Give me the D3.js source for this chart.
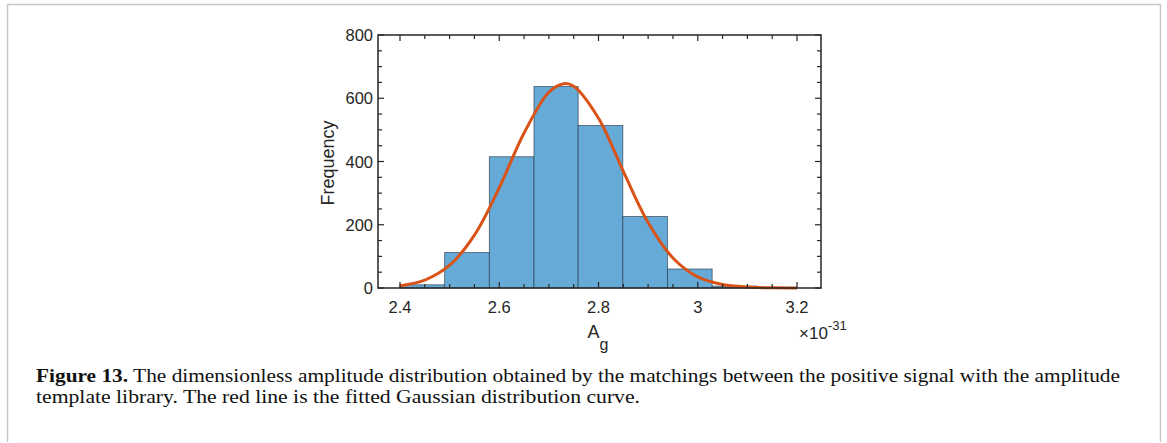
<!DOCTYPE html>
<html><head><meta charset="utf-8">
<script src="https://cdn.jsdelivr.net/npm/d3@7"></script>
<style>body{margin:0;background:#fff}svg{display:block}</style>
</head><body>
<svg id="c" width="1167" height="443"></svg>
<script>
// ---- data ----
const binEdges = [2.400, 2.490, 2.580, 2.670, 2.759, 2.849, 2.939, 3.029, 3.119];
const binCounts = [10, 112, 415, 637, 514, 226, 60, 6];
const fitX = [2.40, 2.45, 2.50, 2.55, 2.60, 2.65, 2.70, 2.73, 2.75, 2.80, 2.85, 2.90, 2.95, 3.00, 3.05, 3.10, 3.15, 3.20];
const fitY = [7, 25, 72, 167, 317, 490, 619, 646, 638, 537, 369, 207, 95, 35, 11, 3, 0.5, 0.1];
const xTicks = [2.4, 2.6, 2.8, 3.0, 3.2];
const xTickLabels = ["2.4", "2.6", "2.8", "3", "3.2"];
const yTicks = [0, 200, 400, 600, 800];
const captionBold = "Figure 13.";
const captionLine1 = " The dimensionless amplitude distribution obtained by the matchings between the positive signal with the amplitude";
const captionLine2 = "template library. The red line is the fitted Gaussian distribution curve.";

const svg = d3.select("#c");
// frame
svg.append("path").attr("d","M7.5,442 V4.5 H1160.5 V442").attr("fill","none").attr("stroke","#c8c8c8").attr("stroke-width",1.5);

const L=378, R=821, T=35, B=288;
const x = d3.scaleLinear().domain([2.4,3.2]).range([400,797]);
const y = d3.scaleLinear().domain([0,800]).range([B,T]);

const g = svg.append("g");
// bars
g.selectAll("rect.bar").data(binCounts).join("rect")
  .attr("x",(d,i)=>x(binEdges[i])).attr("width",(d,i)=>x(binEdges[i+1])-x(binEdges[i]))
  .attr("y",d=>y(d)).attr("height",d=>B-y(d))
  .attr("fill","#66aad7").attr("stroke","#2a3a4a").attr("stroke-width",0.8).attr("stroke-opacity",0.8);

// curve
const line = d3.line().x(d=>x(d[0])).y(d=>y(d[1])).curve(d3.curveCatmullRom.alpha(0.5));
g.append("path").datum(fitX.map((v,i)=>[v,fitY[i]])).attr("d",line)
  .attr("fill","none").attr("stroke","#d95319").attr("stroke-width",3).attr("stroke-linejoin","round");

// ticks
const ax = svg.append("g").attr("stroke","#262626").attr("stroke-width",1.2);
const xMinor = d3.range(2.4, 3.2001, 0.05);
xMinor.forEach(v=>{
  const isMaj = xTicks.some(t=>Math.abs(t-v)<1e-6);
  const len = isMaj?6:4;
  ax.append("line").attr("x1",x(v)).attr("x2",x(v)).attr("y1",B).attr("y2",B-len);
  ax.append("line").attr("x1",x(v)).attr("x2",x(v)).attr("y1",T).attr("y2",T+len);
});
d3.range(0,801,50).forEach(v=>{
  const isMaj = yTicks.includes(v);
  const len = isMaj?6:4;
  ax.append("line").attr("y1",y(v)).attr("y2",y(v)).attr("x1",L).attr("x2",L+len);
  ax.append("line").attr("y1",y(v)).attr("y2",y(v)).attr("x1",R).attr("x2",R-len);
});
svg.append("rect").attr("x",L).attr("y",T).attr("width",R-L).attr("height",B-T)
  .attr("fill","none").attr("stroke","#262626").attr("stroke-width",1.5);

// tick labels
const font = "'Liberation Sans', Arial, sans-serif";
svg.append("g").selectAll("text").data(xTicks).join("text")
  .attr("x",d=>x(d)).attr("y",313).attr("text-anchor","middle")
  .attr("font-family",font).attr("font-size",16.5).attr("fill","#262626")
  .text((d,i)=>xTickLabels[i]);
svg.append("g").selectAll("text").data(yTicks).join("text")
  .attr("x",373).attr("y",d=>y(d)+6).attr("text-anchor","end")
  .attr("font-family",font).attr("font-size",16.5).attr("fill","#262626")
  .text(d=>d);

// axis labels
svg.append("text").attr("transform","translate(334,163) rotate(-90)").attr("text-anchor","middle")
  .attr("font-family",font).attr("font-size",18).attr("fill","#262626").text("Frequency");
const xl = svg.append("text").attr("x",598).attr("y",338).attr("text-anchor","middle")
  .attr("font-family",font).attr("font-size",18).attr("fill","#262626");
xl.append("tspan").text("A");
xl.append("tspan").attr("dy",12).attr("font-size",16).text("g");

const ex = svg.append("text").attr("x",799).attr("y",339)
  .attr("font-family",font).attr("font-size",17).attr("fill","#262626");
ex.append("tspan").text("\u00d710");
ex.append("tspan").attr("dy",-9).attr("font-size",13).text("-31");

// caption
const serif = "'Liberation Serif','Times New Roman',serif";
const c1 = svg.append("text").attr("x",36).attr("y",382).attr("font-family",serif).attr("font-size",19)
  .attr("fill","#111").attr("textLength",1084).attr("lengthAdjust","spacingAndGlyphs");
c1.append("tspan").attr("font-weight","bold").text(captionBold);
c1.append("tspan").text(captionLine1);
svg.append("text").attr("x",36).attr("y",403.3).attr("font-family",serif).attr("font-size",19).attr("fill","#111")
  .attr("textLength",604).attr("lengthAdjust","spacingAndGlyphs").text(captionLine2);
</script>
</body></html>
